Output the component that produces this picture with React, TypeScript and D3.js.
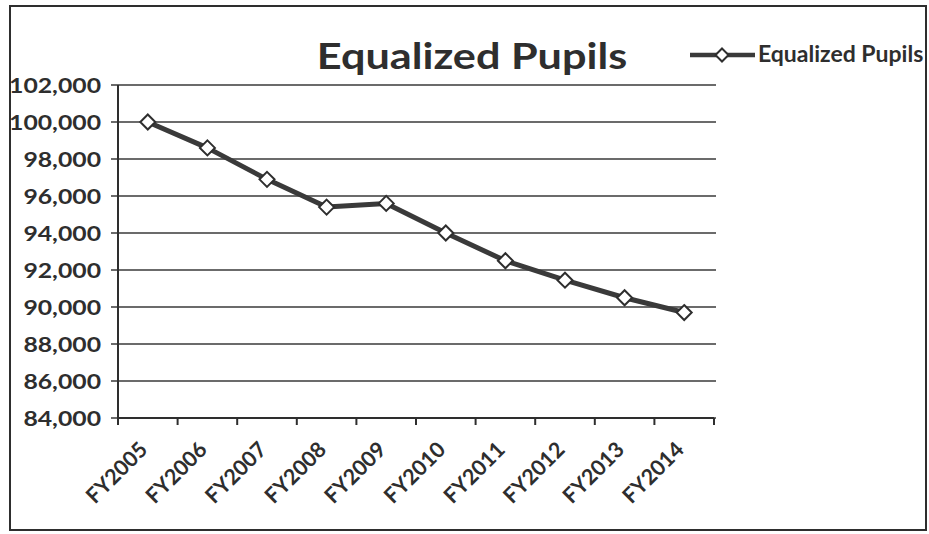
import React from "react";
import * as d3 from "d3";

const categories = ["FY2005", "FY2006", "FY2007", "FY2008", "FY2009", "FY2010", "FY2011", "FY2012", "FY2013", "FY2014"];
const pupils = [100000, 98600, 96900, 95400, 95600, 94000, 92500, 91450, 90500, 89700];
const yTicks = [84000, 86000, 88000, 90000, 92000, 94000, 96000, 98000, 100000, 102000];
const seriesName = "Equalized Pupils";
const title = "Equalized Pupils";

const W = 929, H = 534;
const left = 118, right = 714, top = 85, bottom = 418;
const font = "Lato, 'Open Sans', sans-serif";
const ink = "#2e2e2e";

export default function App() {
  const x = d3.scaleBand<string>().domain(categories).range([left, right]);
  const y = d3.scaleLinear().domain([84000, 102000]).range([bottom, top]);
  const fmt = d3.format(",");
  const line = d3.line<number>()
    .x((_, i) => (x(categories[i]) as number) + x.bandwidth() / 2)
    .y((d) => y(d));
  const diamond = (cx: number, cy: number, r: number) =>
    `M${cx},${cy - r}L${cx + r},${cy}L${cx},${cy + r}L${cx - r},${cy}Z`;
  const tickXs = [left, ...categories.map((c) => (x(c) as number) + x.bandwidth())];

  return (
    <svg width={W} height={H} style={{ position: "absolute", left: 0, top: 0, background: "#fff" }}>
      <rect x={10} y={6} width={916} height={524} fill="#fff" stroke={ink} strokeWidth={2} />
      <text transform="translate(472,69) scale(1.2,1)" textAnchor="middle" fontFamily={font} fontWeight={700} fontSize={36} fill={ink}>{title}</text>
      {yTicks.map((t) => (
        <g key={t}>
          <line x1={left - 7} x2={right + 2} y1={y(t)} y2={y(t)} stroke="#3a3a3a" strokeWidth={1.6} />
          <text transform={`translate(101,${y(t) + 8}) scale(1.18,1)`} textAnchor="end" fontFamily={font} fontWeight={700} fontSize={21} fill={ink}>{fmt(t)}</text>
        </g>
      ))}
      <line x1={left} x2={left} y1={top} y2={bottom + 7} stroke={ink} strokeWidth={2} />
      <line x1={left} x2={right} y1={bottom} y2={bottom} stroke={ink} strokeWidth={2} />
      {tickXs.map((tx, i) => (
        <line key={i} x1={tx} x2={tx} y1={bottom} y2={bottom + 7} stroke={ink} strokeWidth={2} />
      ))}
      {categories.map((c) => {
        const cx = (x(c) as number) + x.bandwidth() / 2 + 1;
        return (
          <text key={c} transform={`translate(${cx},${bottom + 33}) rotate(-45)`} textAnchor="end" fontFamily={font} fontWeight={700} fontSize={21.5} fill={ink}>{c}</text>
        );
      })}
      <path d={line(pupils) || ""} fill="none" stroke="#3a3a3a" strokeWidth={5} strokeLinejoin="round" />
      {pupils.map((v, i) => {
        const cx = (x(categories[i]) as number) + x.bandwidth() / 2;
        return <path key={i} d={diamond(cx, y(v), 7.5)} fill="#fff" stroke={ink} strokeWidth={2} />;
      })}
      <line x1={690} x2={755} y1={55} y2={55} stroke="#3a3a3a" strokeWidth={4.5} />
      <path d={diamond(722, 55, 6.5)} fill="#fff" stroke={ink} strokeWidth={2} />
      <text x={758} y={62} fontFamily={font} fontWeight={700} fontSize={23} fill={ink}>{seriesName}</text>
    </svg>
  );
}
